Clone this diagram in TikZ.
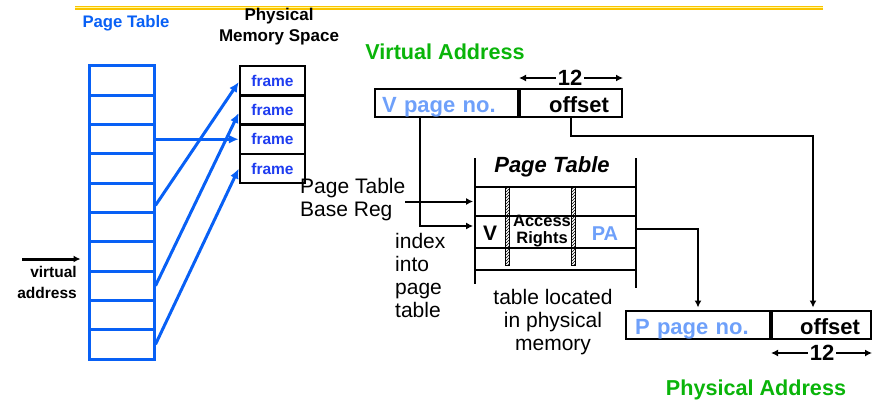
\documentclass[tikz,border=0pt]{standalone}
\usepackage{fontspec}
\setmainfont{Liberation Sans}
\usetikzlibrary{shapes,arrows.meta,patterns,positioning}
\definecolor{ptblue}{RGB}{8,96,245}
\definecolor{frblue}{RGB}{30,60,240}
\definecolor{ltblue}{RGB}{110,160,250}
\definecolor{vagreen}{RGB}{10,180,10}
\definecolor{rulegold}{RGB}{250,195,0}
\tikzstyle{slot} = [rectangle, draw=ptblue, line width=3pt, minimum width=65pt, minimum height=29.3pt, inner sep=0]
\tikzstyle{frm} = [rectangle, draw=black, line width=2.5pt, minimum width=65pt, minimum height=29.3pt, inner sep=0, text=frblue, font=\fontsize{15.5}{17}\selectfont\bfseries]
\tikzstyle{field} = [rectangle, draw, line width=2pt, minimum height=28pt, inner ysep=0, text height=20pt, text depth=0pt, font=\fontsize{22}{24}\selectfont\bfseries]
\tikzstyle{entry} = [rectangle, draw, line width=1.8pt, minimum width=161pt, inner sep=0]
\tikzstyle{hatch} = [draw, line width=0.6pt, pattern=north east lines]
\tikzstyle{txt} = [inner sep=0, font=\fontsize{21}{23}\selectfont]
\tikzstyle{bold} = [inner sep=0, font=\fontsize{22}{24}\selectfont\bfseries]
\tikzstyle{title} = [inner sep=0, text=vagreen, font=\fontsize{21.6}{24}\selectfont\bfseries]
\tikzstyle{line} = [draw, line width=2pt, -{Latex[length=7pt,width=7pt]}]
\tikzstyle{bline} = [draw=ptblue, line width=3pt, -{Latex[length=10pt,width=9pt]}]
\begin{document}
\begin{tikzpicture}[x=1pt,y=-1pt]
\useasboundingbox (0,0) rectangle (874,401);

% rule on top
\draw[rulegold, line width=4.5pt] (75,8) -- (823,8);
\draw[yellow!40, line width=0.8pt] (75,7.3) -- (823,7.3);

% left side: page table and frames
\node [inner sep=0, text=ptblue, font=\fontsize{16.7}{19}\selectfont\bfseries] (pttitle) at (126,23) {Page Table};
\node [inner sep=0, align=center, font=\fontsize{17}{21}\selectfont\bfseries] (pmtitle) at (279,26.5) {Physical\\Memory Space};

\foreach \i in {1,...,10}
  \node [slot] (r\i) at (121.5,{66+29.3*(\i-0.5)}) {};
\foreach \i in {1,...,4}
  \node [frm] (f\i) at (272.5,{66+29.3*(\i-0.5)}) {frame};

\coordinate (vain) at (22,259);
\node [inner sep=0, align=right, anchor=east, font=\fontsize{15.5}{21}\selectfont\bfseries] (valbl) at (77,282.5) {virtual\\address};

% virtual address
\node [title] (vatitle) at (445,52) {Virtual Address};
\node [field, text=ltblue, minimum width=143pt, text width=129pt, inner xsep=7pt, align=left] (vpn) at (446.5,103) {V page no.};
\node [field, right=0pt of vpn, minimum width=102pt, text width=76pt, inner xsep=13pt, align=right] (voff) {offset};
\node [bold, inner sep=2pt] (twv) at (570,78) {12};

% page table in memory
\node [entry, minimum height=29pt] (ptb) at (555.5,201.5) {};
\node [entry, minimum height=32pt] (pte) at (555.5,232) {};
\node [entry, minimum height=22pt] (ptc) at (555.5,259) {};
\draw [line width=1.8pt] (475,158) -- (475,284);
\draw [line width=1.8pt] (636,158) -- (636,288);
\filldraw [hatch] (505,187) rectangle (509,265);
\filldraw [hatch] (571,187) rectangle (575,265);
\node [inner sep=0, font=\fontsize{22}{24}\selectfont\bfseries\itshape] (pttl) at (552,167) {Page Table};
\node [inner sep=0, font=\fontsize{21}{24}\selectfont\bfseries] (vbit) at (490,233) {V};
\node [inner sep=0, align=center, font=\fontsize{16.5}{17}\selectfont\bfseries] (ar) at (542,231) {Access\\Rights};
\node [inner sep=0, text=ltblue, font=\fontsize{20}{22}\selectfont\bfseries] (pa) at (605,234) {PA};

\node [txt, align=left, anchor=west] (ptbr) at (300,199.5) {Page Table\\Base Reg};
\node [txt, align=left, anchor=west] (idx) at (395,275) {index\\into\\page\\table};
\node [txt, align=center] (loc) at (553,322.5) {table located\\in physical\\memory};

% physical address
\node [field, text=ltblue, minimum width=144pt, text width=126pt, inner xsep=9pt, align=left] (ppn) at (698,324.5) {P page no.};
\node [field, right=0pt of ppn, minimum width=99pt, text width=77pt, inner xsep=11pt, align=right] (poff) {offset};
\node [bold, inner sep=2pt] (twp) at (822,353) {12};
\node [title] (patitle) at (756,390) {Physical Address};

% now we link together the blocks with arrows
\path [bline] (r3.east) -- (f3.west);
\path [bline] ([yshift=-7.5pt]r5.east) -- ([yshift=-1.4pt]f1.west);
\path [bline] (r8.east) -- ([yshift=-3pt]f2.west);
\path [bline] (r10.east) -- (f4.west);
\path [line, line width=3pt, shorten >=7pt] (vain) -- (vain -| r7.west);

\path [line] (twv.west) -- (twv.west -| voff.west);
\path [line] (twv.east) -- (twv.east -| voff.east);
\path [line] (twp.west) -- (twp.west -| poff.west);
\path [line] (twp.east) -- (twp.east -| poff.east);

\path [line, shorten >=1pt] (ptbr.east |- ptb.west) -- (ptb.west);
\path [line, shorten >=1pt] ([xshift=-26.5pt]vpn.south) |- ([yshift=6pt]pte.west);
\coordinate (obend) at (813,136);
\path [line, shorten >=2pt] (voff.south) |- (obend) -- (obend |- poff.north);
\path [line, shorten >=2pt] ([yshift=3pt]pte.east) -| (ppn.north);

\end{tikzpicture}
\end{document}
